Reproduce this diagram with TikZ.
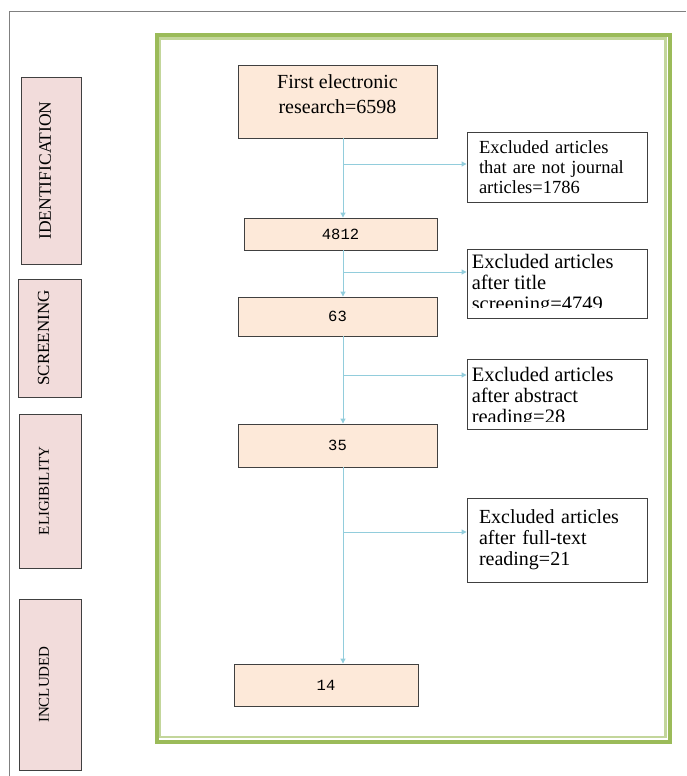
\documentclass[tikz,border=0pt]{standalone}
\usepackage{fontspec}
\setmainfont{Liberation Serif}
\setmonofont{Liberation Mono}
\usetikzlibrary{arrows.meta}
\definecolor{stepfill}{HTML}{FDE9D9}
\definecolor{phasefill}{HTML}{F2DCDB}
\definecolor{flowblue}{HTML}{92CDDC}
\definecolor{framegreen}{HTML}{9BBB59}
\definecolor{framelight}{HTML}{C3D69B}
\definecolor{boxline}{HTML}{404040}
\tikzset{x=1pt, y=-1pt,
every node/.style={inner sep=0pt},
phase/.style={
draw=boxline,
fill=phasefill,
line width=0.9pt,
rotate=90,
text depth=12pt},
stepbox/.style={
draw=boxline,
fill=stepfill,
line width=0.9pt,
minimum width=199pt},
count/.style={stepbox,
font=\ttfamily\fontsize{15.5}{18}\selectfont},
exbox/.style={
draw=boxline,
fill=white,
line width=0.9pt,
minimum width=180pt},
extext/.style={align=left,
font=\fontsize{20.5}{21}\selectfont},
every edge/.style={
draw=flowblue,
line width=1pt,
-{Triangle[length=5pt,width=5pt]}}}

\begin{document}
\begin{tikzpicture}
\useasboundingbox (0,0) rectangle (686,776);
% page frame and green double frame
\draw[gray, line width=1pt] (9,776) -- (9,12) -- (686,12);
\draw[framegreen, line width=4pt] (156.5,35) rectangle (669.5,742);
\draw[framelight, line width=2.5pt] (160,38.5) rectangle (665.5,737);
% phases
\node[phase, minimum width=187pt, minimum height=60pt, font=\fontsize{17.5}{20}\selectfont] (ident) at (51,170.5) {IDENTIFICATION};
\node[phase, minimum width=118pt, minimum height=63pt, font=\fontsize{17}{20}\selectfont] (screen) at (49.5,338) {SCREENING};
\node[phase, minimum width=154pt, minimum height=62pt, font=\fontsize{15}{18}\selectfont] (elig) at (50,491) {ELIGIBILITY};
\node[phase, minimum width=171pt, minimum height=62pt, font=\fontsize{15}{18}\selectfont] (incl) at (50,684.5) {INCLUDED};
% records kept
\node[stepbox, minimum height=73pt, align=center, text depth=14pt, font=\fontsize{20}{25}\selectfont] (first) at (337.5,101.5) {First electronic\\research=6598};
\node[count, minimum width=193pt, minimum height=32pt] (n4812) at (340.5,234) {4812};
\node[count, minimum height=39pt] (n63) at (337.5,316.5) {63};
\node[count, minimum height=43pt] (n35) at (337.5,445.5) {35};
\node[count, minimum width=184pt, minimum height=42pt] (n14) at (326,685) {14};
% records excluded
\node[exbox, minimum height=70pt, text width=156pt, align=left, font=\fontsize{18.5}{20}\selectfont] (ex1) at (557,167) {Excluded articles\\that are not journal\\articles=1786};
\node[exbox, minimum height=69pt] (ex2) at (557,283.5) {};
\begin{scope}
\clip (ex2.north west) rectangle ([yshift=11pt]ex2.south east);
\node[extext, anchor=north west] (ex2txt) at ([xshift=5pt,yshift=-6pt]ex2.north west) {Excluded articles\\after title\\screening=4749};
\end{scope}
\node[exbox, minimum height=70pt] (ex3) at (557,394) {};
\begin{scope}
\clip (ex3.north west) rectangle ([yshift=8pt]ex3.south east);
\node[extext, anchor=north west] (ex3txt) at ([xshift=5pt,yshift=-9pt]ex3.north west) {Excluded articles\\after abstract\\reading=28};
\end{scope}
\node[exbox, minimum height=84pt, text width=156pt, align=left, font=\fontsize{20}{21}\selectfont] (ex4) at (557,540) {Excluded articles\\after full-text\\reading=21};
% flow
\coordinate (s1) at (343,164);
\coordinate (s2) at (343,272);
\coordinate (s3) at (343,375);
\coordinate (s4) at (343,532);
\draw (first.south -| s1) edge (n4812.north -| s1);
\draw (s1) edge (s1 -| ex1.west);
\draw (n4812.south -| s2) edge (n63.north -| s2);
\draw (s2) edge (s2 -| ex2.west);
\draw (n63.south -| s3) edge (n35.north -| s3);
\draw (s3) edge (s3 -| ex3.west);
\draw (n35.south -| s4) edge (n14.north -| s4);
\draw (s4) edge (s4 -| ex4.west);
\end{tikzpicture}
\end{document}
